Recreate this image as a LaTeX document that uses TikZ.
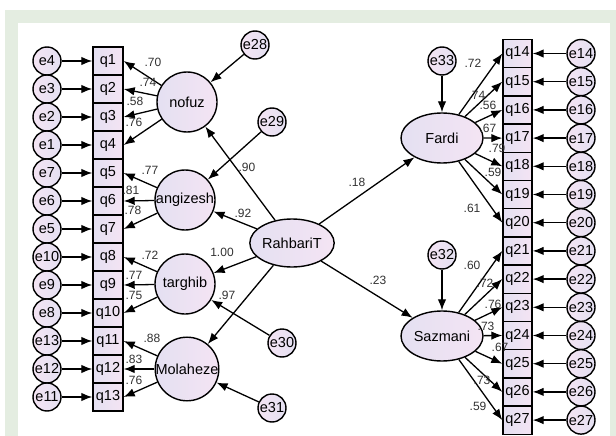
\documentclass[tikz,border=0pt]{standalone}
\usepackage{fontspec}
\setmainfont{Liberation Sans}
\usetikzlibrary{arrows.meta,shapes.geometric}
\definecolor{bggreen}{RGB}{228,237,225}
\definecolor{lavA}{RGB}{228,224,242}
\definecolor{lavB}{RGB}{244,228,243}
\definecolor{labc}{RGB}{50,50,50}
\tikzset{
  every node/.style={font=\fontsize{14.5}{14.5}\selectfont},
  lat/.style={circle, draw, line width=1.4pt, minimum size=60pt, inner sep=0pt, left color=lavA, right color=lavB},
  err/.style={circle, draw, line width=1.4pt, minimum size=28pt, inner sep=0pt, left color=lavB, right color=lavA},
  indL/.style={rectangle, draw, line width=1.4pt, minimum width=30pt, minimum height=28pt, inner sep=0pt, left color=lavA, right color=lavB},
  indR/.style={rectangle, draw, line width=1.4pt, minimum width=29pt, minimum height=28.2pt, inner sep=0pt, left color=lavA, right color=lavB},
  ell/.style={ellipse, draw, line width=1.4pt, minimum width=82pt, minimum height=50pt, inner sep=0pt, left color=lavA, right color=lavB},
  arr/.style={line width=1.3pt, -{Latex[length=11pt,width=8.5pt]}},
  lab/.style={font=\fontsize{12}{12}\selectfont, text=labc, inner sep=0pt}
}
\begin{document}
\begin{tikzpicture}[x=1pt,y=-1pt]
\useasboundingbox (0,0) rectangle (616,436);
\fill[bggreen] (5,10) rectangle (616,436);
\fill[white] (18,23) rectangle (610,436);

% left indicators and errors
\foreach \i/\e in {1/4,2/3,3/2,4/1,5/7,6/6,7/5,8/10,9/9,10/8,11/13,12/12,13/11} {
  \node[indL] (q\i) at (108,{61+28*(\i-1)}) {q\i};
  \node[err] (e\e) at (47,{61+28*(\i-1)}) {e\e};
  \draw[arr] (e\e) -- (q\i);
}
% right indicators and errors
\foreach \i in {14,...,27} {
  \node[indR] (q\i) at (517.5,{53.5+28.2*(\i-14)}) {q\i};
  \node[err] (e\i) at (581,{53.5+28.2*(\i-14)}) {e\i};
  \draw[arr] (e\i) -- (q\i);
}

% latent factors
\node[lat] (nofuz) at (187,102) {nofuz};
\node[lat] (angizesh) at (185,200) {angizesh};
\node[lat] (targhib) at (185,284) {targhib};
\node[lat] (molaheze) at (187,369) {Molaheze};
\node[ell, minimum width=80pt, minimum height=48pt] (rahbari) at (292,243) {RahbariT};
\node[ell] (fardi) at (442,138) {Fardi};
\node[ell] (sazmani) at (442,336) {Sazmani};

% disturbances
\node[err] (e28) at (255,45) {e28};
\node[err] (e29) at (272,122) {e29};
\node[err] (e30) at (282,343) {e30};
\node[err] (e31) at (272,408) {e31};
\node[err] (e33) at (442,61) {e33};
\node[err] (e32) at (442,255) {e32};

\draw[arr] (e28) -- (nofuz);
\draw[arr] (e29) -- (angizesh);
\draw[arr] (e30) -- (targhib);
\draw[arr] (e31) -- (molaheze);
\draw[arr] (e33) -- (fardi);
\draw[arr] (e32) -- (sazmani);

% loadings
\foreach \i in {1,...,4} \draw[arr] (nofuz) -- (q\i.east);
\foreach \i in {5,6,7} \draw[arr] (angizesh) -- (q\i.east);
\foreach \i in {8,9,10} \draw[arr] (targhib) -- (q\i.east);
\foreach \i in {11,12,13} \draw[arr] (molaheze) -- (q\i.east);
\foreach \i in {14,...,20} \draw[arr] (fardi) -- (q\i.west);
\foreach \i in {21,...,27} \draw[arr] (sazmani) -- (q\i.west);

% structural paths
\draw[arr] (rahbari) -- (nofuz);
\draw[arr] (rahbari) -- (angizesh);
\draw[arr] (rahbari) -- (targhib);
\draw[arr] (rahbari) -- (molaheze);
\draw[arr] (rahbari) -- (fardi);
\draw[arr] (rahbari) -- (sazmani);

% labels
\foreach \t/\x/\y [count=\n] in {
  .70/153/62, .74/148/82, .58/135/101, .76/134/122,
  .77/150/170, .81/131/190, .78/133/210,
  .72/150/255, .77/134/275, .75/134/295,
  .88/152/338, .83/134/359, .76/134/380,
  .90/247/167, .92/243/213, 1.00/222/252, .97/227/295,
  .18/357/182, .23/378/280,
  .72/473/63, .74/477/95, .56/488/105, .67/488/128, .79/497/148, .59/493/172, .61/472/208,
  .60/472/265, .72/485/283, .76/493/304, .73/486/326, .67/500/347, .73/482/380, .59/478/406}
  \node[lab] (lab\n) at (\x,\y) {\t};
\end{tikzpicture}
\end{document}
